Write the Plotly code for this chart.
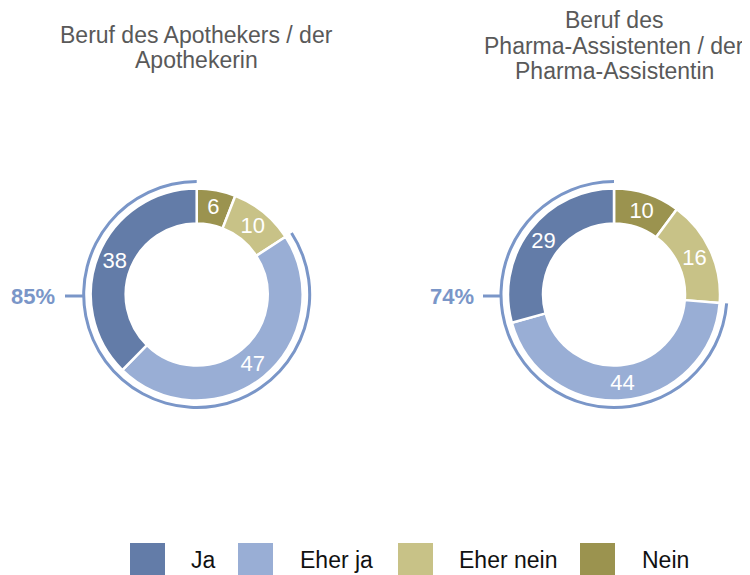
import plotly.graph_objects as go

# ---------------- data ----------------
categories = ["Ja", "Eher ja", "Eher nein", "Nein"]
title_lines = [
    ["Beruf des Apothekers / der", "Apothekerin"],
    ["Beruf des", "Pharma-Assistenten / der", "Pharma-Assistentin"],
]
apotheker = [38, 47, 10, 6]
assistent = [29, 44, 16, 10]
zustimmung_label = [85, 74]  # share "Ja" + "Eher ja" (%)

# ---------------- style ----------------
colors = ["#637CA8", "#99AED5", "#C8C287", "#9B934F"]
arc_color = "#7A96C8"
FONT = "Liberation Sans"
# page body has an 8px margin; figure sized to fit the 750x575 window
OFF = 8
W, H = 750 - OFF, 575 - OFF
centers = [(196.7, 294.5), (614.0, 294.5)]  # in window pixels
R = 106.0
HOLE_R = 71.0
ARC_R = 113.0
ARC_W = 3.0


def px(x):
    return (x - OFF) / W


def py(y):
    return 1 - (y - OFF) / H


def dom(cx, cy, r):
    return dict(x=[px(cx - r), px(cx + r)], y=[py(cy + r), py(cy - r)])


fig = go.Figure()
series = [apotheker, assistent]
for i, vals in enumerate(series):
    cx, cy = centers[i]
    # outer arc showing Ja + Eher ja (drawn clockwise, ending at 12 o'clock)
    pos = vals[0] + vals[1]
    rest = sum(vals) - pos
    fig.add_trace(go.Pie(
        values=[rest, pos],
        labels=["rest", "pos"],
        marker=dict(colors=["rgba(0,0,0,0)", arc_color], line=dict(width=0)),
        hole=(ARC_R - ARC_W / 2) / (ARC_R + ARC_W / 2),
        domain=dom(cx, cy, ARC_R + ARC_W / 2),
        sort=False, direction="clockwise", rotation=0,
        textinfo="none", hoverinfo="skip", showlegend=False,
    ))
    # main donut: Nein .. Ja clockwise from top, so "Ja" ends at 12 o'clock
    fig.add_trace(go.Pie(
        values=vals[::-1],
        labels=categories[::-1],
        marker=dict(colors=colors[::-1], line=dict(color="white", width=2.5)),
        hole=HOLE_R / R,
        domain=dom(cx, cy, R),
        sort=False, direction="clockwise", rotation=0,
        textinfo="value", textposition="inside",
        insidetextorientation="horizontal",
        insidetextfont=dict(family=FONT, size=22, color="white"),
        showlegend=False,
    ))

annotations = []
shapes = []

# titles
title_y = [[35, 60], [20, 46, 71]]
title_x = [196.7, 614.0]
for i, lines in enumerate(title_lines):
    for line, ty in zip(lines, title_y[i]):
        annotations.append(dict(
            text=line, x=px(title_x[i]), y=py(ty), xref="paper", yref="paper",
            xanchor="center", yanchor="middle", showarrow=False,
            font=dict(family=FONT, size=23, color="#595959"),
        ))

# percentage labels with leader line
label_right = [57, 476]
line_x = [(65, 83), (483, 501)]
for i, v in enumerate(zustimmung_label):
    ly = 296
    annotations.append(dict(
        text=f"<b>{v}%</b>", x=px(label_right[i]), y=py(ly),
        xref="paper", yref="paper", xanchor="right", yanchor="middle",
        showarrow=False, font=dict(family=FONT, size=22, color=arc_color),
    ))
    shapes.append(dict(
        type="line", xref="paper", yref="paper",
        x0=px(line_x[i][0]), x1=px(line_x[i][1]), y0=py(ly), y1=py(ly),
        line=dict(color=arc_color, width=3),
    ))

# legend
box_x = [130, 238, 398, 580]
text_x = [189, 298, 457, 640]
for cat, col, bx, tx in zip(categories, colors, box_x, text_x):
    shapes.append(dict(
        type="rect", xref="paper", yref="paper",
        x0=px(bx), x1=px(bx + 35), y0=py(577), y1=py(543),
        fillcolor=col, line=dict(width=0),
    ))
    annotations.append(dict(
        text=cat, x=px(tx), y=py(560), xref="paper", yref="paper",
        xanchor="left", yanchor="middle", showarrow=False,
        font=dict(family=FONT, size=23, color="#111111"),
    ))

fig.update_layout(
    width=W, height=H,
    margin=dict(l=0, r=0, t=0, b=0),
    paper_bgcolor="white", plot_bgcolor="white",
    showlegend=False,
    annotations=annotations, shapes=shapes,
    font=dict(family=FONT),
)

fig.write_html("out.html")
